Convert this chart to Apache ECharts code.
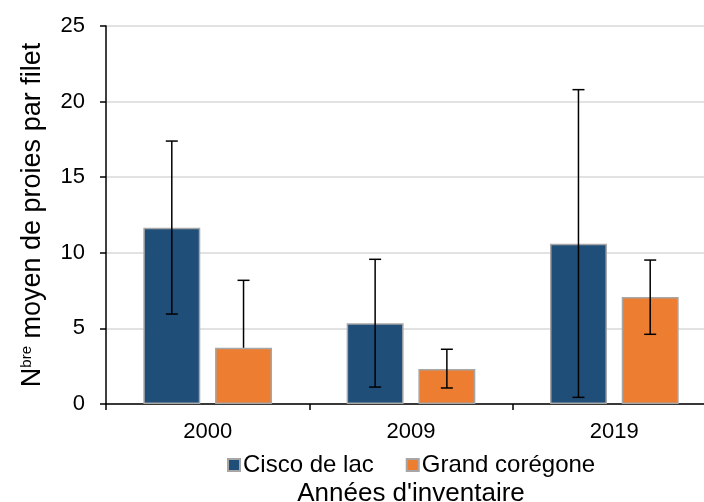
<!DOCTYPE html>
<html><head><meta charset="utf-8">
<script src="https://cdn.jsdelivr.net/npm/echarts@6/dist/echarts.min.js"></script>
<style>html,body{margin:0;padding:0;background:#fff}#c{width:704px;height:502px}</style>
</head><body><div id="c"></div>
<script>
const categories = ['2000', '2009', '2019'];
const seriesNames = ['Cisco de lac', 'Grand corégone'];
const cisco = [11.66, 5.34, 10.6];
const ciscoLow = [5.95, 1.12, 0.44];
const ciscoHigh = [17.39, 9.57, 20.79];
const coregone = [3.72, 2.31, 7.08];
const coregoneLow = [3.72, 1.06, 4.61];
const coregoneHigh = [8.18, 3.62, 9.52];
const yTicks = [0, 5, 10, 15, 20, 25];

const barW = 0.28, gapFrac = 0.26;
const offFrac = (barW + barW * gapFrac) / 2;

function errSeries(vals, low, high, sign) {
  return {
    type: 'custom',
    z: 10,
    data: categories.map((c, i) => [i, low[i], high[i], vals[i]]),
    encode: { x: 0, y: [1, 2] },
    renderItem: function (params, api) {
      const i = api.value(0);
      const band = api.size([1, 0])[0];
      const top = api.coord([i, api.value(2)]);
      const bot = api.coord([i, api.value(1)]);
      const x = top[0] + sign * band * offFrac;
      const cap = 6;
      const st = { stroke: '#000', lineWidth: 1.5 };
      const children = [
        { type: 'line', shape: { x1: x, y1: top[1], x2: x, y2: bot[1] }, style: st },
        { type: 'line', shape: { x1: x - cap, y1: top[1], x2: x + cap, y2: top[1] }, style: st }
      ];
      if (api.value(1) !== api.value(3)) {
        children.push({ type: 'line', shape: { x1: x - cap, y1: bot[1], x2: x + cap, y2: bot[1] }, style: st });
      }
      return { type: 'group', children };
    }
  };
}

const chart = echarts.init(document.getElementById('c'));
chart.setOption({
  animation: false,
  textStyle: { fontFamily: 'Liberation Sans, Arial, sans-serif' },
  grid: { left: 106, right: -12, top: 26, bottom: 98, containLabel: false, outerBoundsMode: 'none' },
  legend: {
    data: seriesNames,
    left: 222, top: 448,
    itemWidth: 12, itemHeight: 12, itemGap: 32,
    icon: 'rect',
    textStyle: { fontSize: 24, color: '#000', padding: [0, 0, 0, -2] }
  },
  xAxis: {
    type: 'category',
    data: categories,
    name: "Années d'inventaire",
    nameLocation: 'middle',
    nameGap: 77,
    nameTextStyle: { fontSize: 26, color: '#000' },
    axisLine: { lineStyle: { color: '#000', width: 1.5 } },
    axisTick: { show: true, length: 6, lineStyle: { color: '#000', width: 1.5 } },
    axisLabel: { fontSize: 22, color: '#000', margin: 17 }
  },
  yAxis: {
    type: 'value',
    min: 0, max: 25, interval: 5,
    name: '{n|N}{s|bre}{n| moyen de proies par filet}',
    nameLocation: 'middle',
    nameGap: 60,
    nameTextStyle: {
      rich: {
        n: { fontSize: 27, color: '#000' },
        s: { fontSize: 15, color: '#000', verticalAlign: 'top', padding: [0, 0, 10, 0] }
      }
    },
    axisLine: { show: true, lineStyle: { color: '#000', width: 1.5 } },
    axisTick: { show: true, length: 6, lineStyle: { color: '#000', width: 1.5 } },
    axisLabel: { fontSize: 22, color: '#000', margin: 21,
      formatter: v => yTicks.includes(v) ? String(v) : '' },
    splitLine: { lineStyle: { color: '#d9d9d9', width: 1.5 } }
  },
  series: [
    {
      name: seriesNames[0], type: 'bar', data: cisco,
      barWidth: (barW * 100) + '%', barGap: (gapFrac * 100) + '%',
      itemStyle: { color: '#1f4e79', borderColor: '#a6a6a6', borderWidth: 1.5 }
    },
    {
      name: seriesNames[1], type: 'bar', data: coregone,
      barWidth: (barW * 100) + '%', barGap: (gapFrac * 100) + '%',
      itemStyle: { color: '#ed7d31', borderColor: '#a6a6a6', borderWidth: 1.5 }
    },
    errSeries(cisco, ciscoLow, ciscoHigh, -1),
    errSeries(coregone, coregoneLow, coregoneHigh, 1)
  ]
});
</script>
</body></html>
